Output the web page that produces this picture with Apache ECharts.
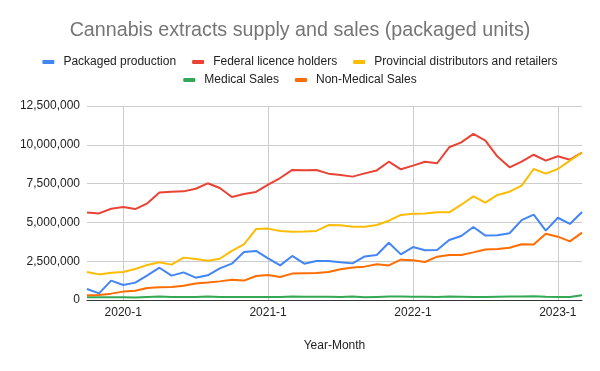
<!DOCTYPE html>
<html>
<head>
<meta charset="utf-8">
<script src="https://cdn.jsdelivr.net/npm/echarts@6/dist/echarts.min.js"></script>
<style>
html,body{margin:0;padding:0;background:#fff;}
#chart{width:600px;height:371px;}
</style>
</head>
<body>
<div id="chart"></div>
<script>
const months = [
  "2019-10","2019-11","2019-12",
  "2020-1","2020-2","2020-3","2020-4","2020-5","2020-6","2020-7","2020-8","2020-9","2020-10","2020-11","2020-12",
  "2021-1","2021-2","2021-3","2021-4","2021-5","2021-6","2021-7","2021-8","2021-9","2021-10","2021-11","2021-12",
  "2022-1","2022-2","2022-3","2022-4","2022-5","2022-6","2022-7","2022-8","2022-9","2022-10","2022-11","2022-12",
  "2023-1","2023-2","2023-3"
];
const packagedProduction = [
  710000,430000,1250000,970000,1120000,1590000,2080000,1570000,1780000,1440000,1590000,2040000,2340000,3090000,3160000,
  2680000,2230000,2840000,2340000,2510000,2510000,2430000,2360000,2810000,2900000,3690000,2940000,
  3410000,3200000,3220000,3870000,4120000,4700000,4150000,4170000,4300000,5150000,5500000,4470000,
  5300000,4900000,5670000
];
const federalLicenceHolders = [
  5630000,5580000,5880000,5990000,5860000,6230000,6920000,6980000,7000000,7170000,7520000,7220000,6640000,6830000,6960000,
  7430000,7860000,8380000,8360000,8380000,8140000,8060000,7950000,8160000,8350000,8910000,8420000,
  8660000,8910000,8810000,9840000,10160000,10700000,10270000,9240000,8550000,8910000,9360000,8980000,
  9260000,9040000,9490000
];
const provincialDistributors = [
  1800000,1650000,1760000,1800000,2000000,2260000,2430000,2280000,2730000,2640000,2530000,2660000,3160000,3590000,4570000,
  4600000,4450000,4400000,4420000,4450000,4830000,4820000,4720000,4720000,4830000,5110000,5480000,
  5560000,5580000,5650000,5650000,6140000,6680000,6270000,6770000,6980000,7370000,8440000,8140000,
  8440000,8980000,9490000
];
const medicalSales = [
  170000,170000,170000,170000,160000,200000,230000,200000,190000,200000,230000,200000,190000,200000,200000,
  200000,190000,230000,210000,210000,210000,200000,230000,180000,200000,220000,220000,
  210000,210000,200000,220000,210000,190000,200000,210000,220000,220000,240000,210000,
  200000,190000,300000
];
const nonMedicalSales = [
  300000,320000,410000,540000,600000,770000,820000,840000,920000,1070000,1120000,1200000,1310000,1250000,1550000,
  1610000,1480000,1700000,1720000,1740000,1800000,1980000,2100000,2150000,2300000,2230000,2600000,
  2560000,2450000,2790000,2900000,2900000,3070000,3260000,3280000,3370000,3590000,3570000,4270000,
  4080000,3780000,4340000
];
const yTicks = { min: 0, max: 12500000, interval: 2500000 };

const seriesDefs = [
  { name: "Packaged production", data: packagedProduction, color: "#4285F4" },
  { name: "Federal licence holders", data: federalLicenceHolders, color: "#EA4335" },
  { name: "Provincial distributors and retailers", data: provincialDistributors, color: "#FBBC04" },
  { name: "Medical Sales", data: medicalSales, color: "#34A853" },
  { name: "Non-Medical Sales", data: nonMedicalSales, color: "#FF6D01" }
];

const isJan = (i, v) => /-1$/.test(v);
const fontFam = "Arial, 'Liberation Sans', sans-serif";
const legendCommon = {
  left: "center",
  icon: "roundRect", itemWidth: 12, itemHeight: 4, itemGap: 16,
  textStyle: { fontFamily: fontFam, fontSize: 12, color: "#222", padding: [0, 0, 0, 4] }
};

const chart = echarts.init(document.getElementById("chart"), null, { renderer: "canvas" });
chart.setOption({
  animation: false,
  backgroundColor: "#fff",
  title: {
    text: "Cannabis extracts supply and sales (packaged units)",
    left: "center", top: 16,
    textStyle: { fontFamily: fontFam, fontSize: 19.7, fontWeight: "normal", color: "#757575" }
  },
  legend: [
    Object.assign({ data: seriesDefs.slice(0, 3).map(s => s.name), top: 51 }, legendCommon),
    Object.assign({ data: seriesDefs.slice(3).map(s => s.name), top: 69 }, legendCommon)
  ],
  grid: { left: 87, right: 18, top: 106, bottom: 71, containLabel: false },
  xAxis: {
    type: "category", data: months, boundaryGap: false,
    name: "Year-Month", nameLocation: "middle", nameGap: 40,
    nameTextStyle: { fontFamily: fontFam, fontSize: 12, color: "#222" },
    axisLine: { lineStyle: { color: "#333", width: 1 } },
    axisTick: { show: false },
    axisLabel: { interval: isJan, fontFamily: fontFam, fontSize: 12, color: "#222", margin: 7 },
    splitLine: { show: true, interval: isJan, lineStyle: { color: "#ccc" } }
  },
  yAxis: {
    type: "value", min: yTicks.min, max: yTicks.max, interval: yTicks.interval,
    axisLine: { show: false }, axisTick: { show: false },
    axisLabel: {
      fontFamily: fontFam, fontSize: 12, color: "#222", margin: 7,
      formatter: v => v.toLocaleString("en-US")
    },
    splitLine: { lineStyle: { color: "#ccc" } }
  },
  series: seriesDefs.map(s => ({
    name: s.name, type: "line", data: s.data, color: s.color,
    showSymbol: false, symbol: "none",
    lineStyle: { width: 2, color: s.color },
    itemStyle: { color: s.color }
  }))
});
</script>
</body>
</html>
